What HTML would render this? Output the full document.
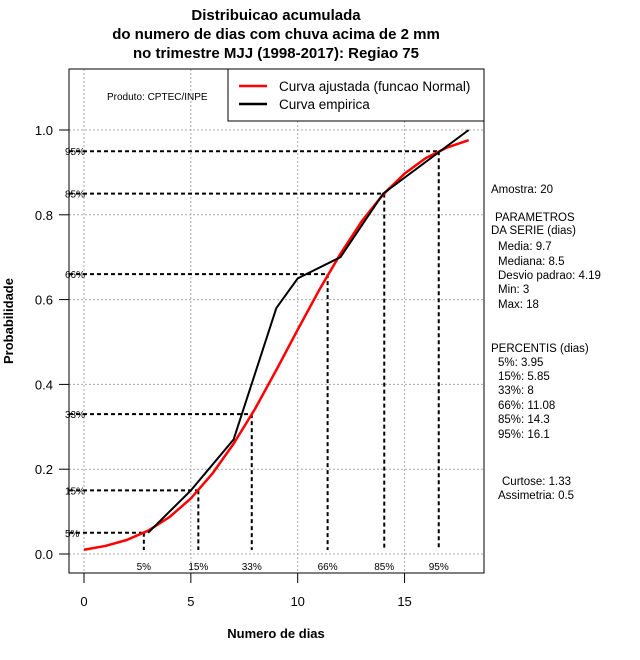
<!DOCTYPE html>
<html><head><meta charset="utf-8"><style>
body{margin:0;background:#fff;}
svg{font-family:"Liberation Sans","DejaVu Sans",sans-serif;display:block}
</style></head><body>
<svg id="chart" width="640" height="660" viewBox="0 0 640 660">
<g font-weight="bold" font-size="15" text-anchor="middle">
<text x="276" y="20">Distribuicao acumulada</text>
<text x="276" y="39">do numero de dias com chuva acima de 2 mm</text>
<text x="276" y="58">no trimestre MJJ (1998-2017): Regiao 75</text>
</g>
<g id="grid"></g>
<g id="axes"></g>
<g id="pct"></g>
<g id="series"></g>
<rect x="69" y="69" width="415" height="504" fill="none" stroke="#000"/>
<g>
<rect x="228" y="69" width="256" height="52" fill="#fff" stroke="#000"/>
<line x1="239" y1="86" x2="267" y2="86" stroke="#f00" stroke-width="2.5"/>
<line x1="239" y1="104" x2="267" y2="104" stroke="#000" stroke-width="2.5"/>
<text x="279" y="91" font-size="13.5">Curva ajustada (funcao Normal)</text>
<text x="279" y="109" font-size="13.5">Curva empirica</text>
</g>
<text x="107" y="100" font-size="10">Produto: CPTEC/INPE</text>
<text x="276" y="638" font-size="13" font-weight="bold" text-anchor="middle">Numero de dias</text>
<text transform="translate(13,321) rotate(-90)" font-size="13" font-weight="bold" text-anchor="middle">Probabilidade</text>
<g font-size="11.5">
<text x="491" y="193">Amostra: 20</text>
<text x="495" y="221">PARAMETROS</text>
<text x="491" y="234">DA SERIE (dias)</text>
<text x="498" y="250">Media: 9.7</text>
<text x="498" y="265">Mediana: 8.5</text>
<text x="498" y="279">Desvio padrao: 4.19</text>
<text x="498" y="293">Min: 3</text>
<text x="498" y="308">Max: 18</text>
<text x="491" y="352">PERCENTIS (dias)</text>
<text x="498" y="366">5%: 3.95</text>
<text x="498" y="380">15%: 5.85</text>
<text x="498" y="394">33%: 8</text>
<text x="498" y="409">66%: 11.08</text>
<text x="498" y="423">85%: 14.3</text>
<text x="498" y="438">95%: 16.1</text>
<text x="502" y="485">Curtose: 1.33</text>
<text x="498" y="499">Assimetria: 0.5</text>
</g>
</svg>
<script>
const xTicks=[0,5,10,15];
const yTicks=[0,0.2,0.4,0.6,0.8,1.0];
const yTickLabels=["0.0","0.2","0.4","0.6","0.8","1.0"];
const empX=[3,5,7,9,10,12,14,18];
const empY=[0.05,0.15,0.27,0.58,0.65,0.70,0.85,1.0];
const fitX=[0,1,2,3,4,5,6,7,8,9,10,11,12,13,14,15,16,17,18];
const fitY=[0.010,0.019,0.033,0.055,0.087,0.131,0.189,0.260,0.342,0.434,0.529,0.622,0.708,0.785,0.848,0.897,0.934,0.959,0.976];
const pctLabels=["5%","15%","33%","66%","85%","95%"];
const pctProb=[0.05,0.15,0.33,0.66,0.85,0.95];
const pctX=[2.8,5.35,7.85,11.4,14.05,16.6];

const NS="http://www.w3.org/2000/svg";
const sx=v=>84+v*21.37;
const sy=v=>554-v*424;
function mk(parent,tag,attrs){const e=document.createElementNS(NS,tag);for(const k in attrs)e.setAttribute(k,attrs[k]);document.getElementById(parent).appendChild(e);return e;}
xTicks.forEach(t=>{
  let g=mk('grid','line',{x1:sx(t),x2:sx(t),y1:69,y2:573,stroke:'#aaa','stroke-dasharray':'2,2'});
  
  
  let tk=mk('axes','line',{x1:sx(t),x2:sx(t),y1:573,y2:583,stroke:'#000'});
  
  
  let tx=mk('axes','text',{x:sx(t),y:606,'font-size':13,'text-anchor':'middle'});
  tx.textContent=t;
  
  
});
yTicks.forEach((t,i)=>{
  let g=mk('grid','line',{x1:69,x2:484,y1:sy(t),y2:sy(t),stroke:'#aaa','stroke-dasharray':'2,2'});
  
  
  let tk=mk('axes','line',{x1:59,x2:69,y1:sy(t),y2:sy(t),stroke:'#000'});
  
  
  let tx=mk('axes','text',{x:53,y:sy(t)+5,'font-size':13,'text-anchor':'end'});
  tx.textContent=yTickLabels[i];
  
  
});
pctProb.forEach((p,i)=>{
  let h=mk('pct','line',{x1:69,x2:sx(pctX[i]),y1:sy(p),y2:sy(p),stroke:'#000','stroke-width':2,'stroke-dasharray':'4,3'});
  
  
  let v=mk('pct','line',{x1:sx(pctX[i]),x2:sx(pctX[i]),y1:sy(p),y2:550,stroke:'#000','stroke-width':2,'stroke-dasharray':'4,3'});
  
  
  let l=mk('pct','text',{x:65,y:sy(p)+4,'font-size':10});
  l.textContent=pctLabels[i];
  
  
  let b=mk('pct','text',{x:sx(pctX[i]),y:570,'font-size':10,'text-anchor':'middle'});
  b.textContent=pctLabels[i];
  
  
});
let fit=mk('series','polyline',{points:fitX.map((x,i)=>sx(x)+','+sy(fitY[i])).join(' '),fill:'none',stroke:'#f00','stroke-width':2.5,'stroke-linejoin':'round'});


let emp=mk('series','polyline',{points:empX.map((x,i)=>sx(x)+','+sy(empY[i])).join(' '),fill:'none',stroke:'#000','stroke-width':2});


</script>
</body></html>
